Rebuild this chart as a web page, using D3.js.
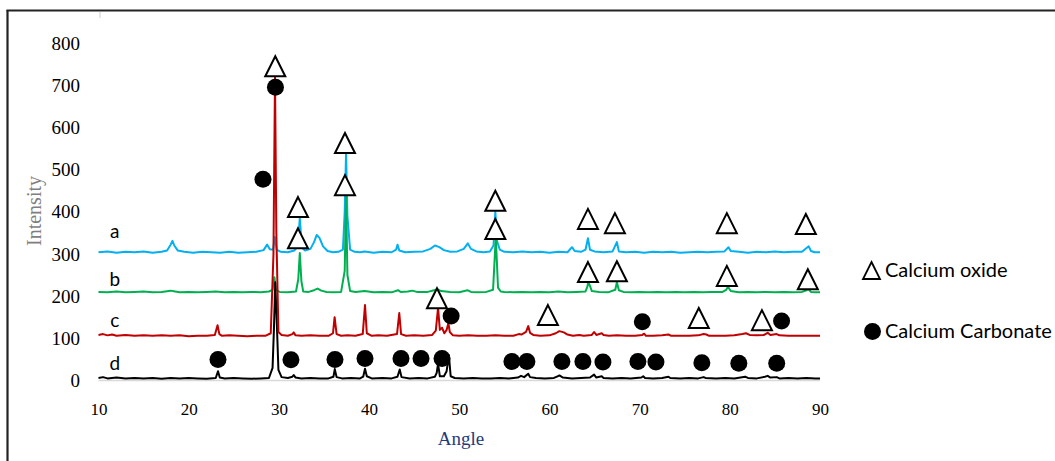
<!DOCTYPE html>
<meta charset="utf-8">
<html>
<head>
<style>
	body { margin: 0; background: white; }
	svg { display: block; }
	.tick text { font-family: "Liberation Serif", "Times New Roman", serif; fill: #000; }
	.trace { fill: none; stroke-width: 2px; stroke-linejoin: round; }
	.lbl { font-family: Lato, "Open Sans", sans-serif; font-size: 19px; fill: #000; }
	.legend { font-family: Lato, "Open Sans", sans-serif; font-size: 20px; fill: #000; }
</style>
</head>
<body>
<script src="https://d3js.org/d3.v7.min.js"></script>
<script>
	// angle (2 theta), intensity (already offset as plotted)
	var traceA = [[10,304],[11,306],[12,303],[13,305],[14,304],[15,306],[16,303],[17,305],[17.6,308],[18,322],[18.2,331],[18.4,320],[18.8,308],[19.5,305],[20.5,303],[21.5,305],[22.5,304],[23.5,303],[24.5,305],[25.5,303],[26.5,304],[27.5,305],[28.3,309],[28.7,322],[29,311],[29.35,310],[29.55,340],[29.75,310],[30.2,305],[31,304],[31.7,308],[32.1,318],[32.32,385],[32.55,315],[32.9,308],[33.5,312],[33.9,328],[34.2,345],[34.5,338],[34.9,318],[35.4,307],[36,304],[36.6,305],[37.1,310],[37.3,400],[37.45,540],[37.6,390],[37.9,310],[38.4,305],[39,304],[39.5,306],[40.5,303],[41.5,305],[42.5,304],[43.0,310],[43.15,322],[43.35,308],[44,304],[45,305],[46,306],[46.8,312],[47.3,320],[47.8,316],[48.3,309],[49,305],[49.8,306],[50.5,312],[50.95,325],[51.3,312],[51.9,306],[52.7,304],[53.4,306],[53.8,320],[54.0,400],[54.2,330],[54.5,310],[55,305],[56,304],[57,306],[58,304],[59,305],[60,303],[61,305],[62,304],[62.5,316],[62.8,307],[63.5,305],[64,310],[64.27,337],[64.5,310],[65,306],[66,304],[67,306],[67.48,328],[67.7,306],[68.5,304],[69.5,305],[70.5,303],[71.5,305],[72.5,304],[73.5,305],[74.5,303],[75.5,304],[76.5,305],[77.5,304],[78.5,305],[79.4,306],[79.85,316],[80.1,307],[81,305],[82,303],[83,305],[84,304],[85,306],[86,304],[87,305],[88,305],[88.75,318],[89,307],[89.4,304],[90,304]];

	var traceB = [[10,210],[11,209],[12,211],[13,209],[14,210],[15,211],[16,209],[17,210],[18,213],[18.5,211],[19,209],[20,210],[21,209],[22,210],[23,211],[24,209],[25,210],[26,209],[27,210],[28,209],[28.9,211],[29.3,215],[29.5,245],[29.7,214],[30.1,210],[31,209],[31.9,211],[32.15,240],[32.32,302],[32.5,235],[32.7,211],[33.3,210],[33.9,214],[34.3,218],[34.7,213],[35.3,210],[36,209],[36.9,210],[37.3,260],[37.45,435],[37.6,250],[37.9,212],[38.5,210],[39.5,212],[40.5,209],[41.5,210],[42.5,209],[43.2,214],[43.5,210],[44.3,211],[44.8,213],[45.3,210],[46.5,210],[47.2,214],[47.6,216],[48,212],[49,210],[50,209],[50.9,214],[51.3,210],[52,209],[53,210],[53.75,215],[54.05,340],[54.3,220],[54.6,211],[55,210],[56,209],[57,210],[58,209],[59,210],[60,209],[61,211],[62,209],[63,210],[64,211],[64.2,222],[64.3,233],[64.5,224],[64.7,212],[65.5,210],[66.5,209],[67.3,215],[67.48,233],[67.7,214],[68.2,210],[69,209],[70,210],[71,209],[72,210],[73,209],[74,210],[75,209],[76,210],[77,209],[78,210],[79.2,210],[79.6,215],[79.8,222],[80.1,212],[81,209],[82,210],[83,209],[84,210],[85,209],[86,210],[87,209],[88,210],[88.5,214],[88.7,217],[89,210],[89.5,209],[90,209]];

	var traceC = [[10,108],[10.5,110],[11,107],[11.5,109],[12,106],[13,108],[14,106],[15,107],[16,106],[17,107],[18,106],[19,107],[20,105],[21,106],[22,106],[22.9,108],[23.2,131],[23.4,110],[23.7,106],[24.5,107],[25.5,106],[26.5,105],[27.5,106],[28.5,106],[29.1,112],[29.4,300],[29.57,720],[29.72,350],[29.95,115],[30.3,108],[31,106],[31.5,110],[31.65,114],[31.85,107],[32.5,106],[33.5,107],[34.5,106],[35.5,106],[36.0,112],[36.18,150],[36.4,110],[36.9,106],[37.6,107],[38.5,106],[39.3,110],[39.55,179],[39.75,112],[40.3,106],[41,107],[42,106],[43.1,110],[43.35,160],[43.55,110],[44.1,106],[45,107],[46,106],[47,108],[47.4,118],[47.65,172],[47.85,120],[48.1,125],[48.35,112],[48.6,120],[48.8,136],[48.95,115],[49.3,107],[50,106],[51,107],[52,106],[53,106],[54,107],[55,106],[56,106],[56.6,110],[56.9,109],[57.4,115],[57.65,129],[57.85,113],[58.2,108],[59,106],[60,107],[60.7,112],[61.1,117],[61.6,114],[62,109],[62.6,106],[63.3,108],[63.8,106],[64.7,108],[64.95,115],[65.2,108],[65.8,112],[66,108],[66.6,106],[67.5,107],[68.5,106],[69.5,106],[70.3,108],[70.5,111],[70.7,106],[71.5,106],[72.5,107],[73.2,109],[73.5,106],[74.5,106],[75.5,106],[76.5,107],[77.1,110],[77.4,109],[77.7,106],[78.5,106],[79.5,106],[80.5,107],[81.4,110],[81.8,112],[82.2,108],[83,107],[83.8,108],[84.2,113],[84.5,108],[85.2,110],[85.5,107],[86.5,106],[87.5,106],[88.5,106],[89.2,106],[90,106]];

	var traceD = [[10,6],[10.5,8],[11,5],[12,7],[13,5],[14,6],[15,5],[16,6],[17,4],[18,6],[19,5],[20,6],[21,5],[22,4],[23,6],[23.25,22],[23.45,7],[24,5],[25,6],[26,5],[27,4],[28,5],[28.9,6],[29.3,30],[29.45,120],[29.6,233],[29.75,150],[29.95,25],[30.3,8],[31,6],[31.5,9],[31.65,13],[31.85,7],[32.5,5],[33.5,6],[34.5,5],[35.5,5],[36.05,9],[36.2,27],[36.4,8],[37,5],[38,6],[39,5],[39.35,9],[39.55,28],[39.75,10],[40.3,5],[41.5,6],[42.5,5],[43.15,9],[43.4,26],[43.6,8],[44.5,5],[45.5,6],[46.5,5],[47.3,9],[47.5,18],[47.65,40],[47.85,10],[48.3,10],[48.6,22],[48.85,60],[49.05,10],[49.5,6],[50.5,5],[51.5,6],[52.5,5],[53.5,5],[54.5,6],[55.5,5],[56.5,7],[56.85,11],[57.2,8],[57.65,16],[57.85,8],[58.5,6],[59.5,5],[60.5,6],[60.9,10],[61.1,12],[61.5,7],[62.5,5],[63.5,6],[64.5,7],[64.95,14],[65.2,7],[65.8,10],[66,6],[67,5],[68,6],[69,5],[70.2,7],[70.4,10],[70.6,6],[71.5,5],[72.5,6],[73.2,9],[73.4,6],[74.5,5],[75.5,6],[76.5,5],[77.1,8],[77.3,6],[78.5,5],[79.5,6],[80.5,5],[81.7,9],[82,6],[83,5],[83.9,9],[84.2,11],[84.5,7],[85.2,8],[85.5,5],[86.5,6],[87.5,5],[88.5,6],[89.5,5],[90,5]];

	// markers: Calcium oxide (triangles) and Calcium Carbonate (circles)
	var caoMarks = [[29.6,745],[32.12,411],[32.12,337],[37.33,563],[37.33,463],[54.0,426],[54.0,359],[64.27,383],[67.26,373],[64.27,257],[67.48,259],[47.53,195],[59.83,155],[76.56,148],[79.67,373],[88.43,371],[79.67,248],[88.65,240],[83.56,143]];
	var caco3Marks = [[29.62,695],[28.24,477],[49.1,153],[70.3,139],[85.74,141],
		[23.25,50],[31.34,49],[36.22,50],[39.55,52],[43.54,52],[45.76,52],[48.09,52],[55.84,45],[57.5,45],[61.38,45],[63.71,45],[65.93,44],[69.81,45],[71.81,44],[76.9,42],[81.0,41],[85.2,41]];

	var seriesNames = ["a", "b", "c", "d"];
	var seriesColors = ["#00b0f0", "#00b050", "#c00000", "#000000"];
	var labelPos = [[11.8,337],[11.8,223],[11.8,128],[11.8,25]];

	var xTicks = [10,20,30,40,50,60,70,80,90];
	var yTicks = [0,100,200,300,400,500,600,700,800];
	var legendNames = ["Calcium oxide", "Calcium Carbonate"];

	var width = 1055, height = 461;

	var x = d3.scaleLinear().domain([10, 90]).range([98.5, 820]);
	var y = d3.scaleLinear().domain([0, 800]).range([380.5, 43]);

	var svg = d3.select("body").append("svg")
		.attr("width", width)
		.attr("height", height);

	// outer frame (only top and left visible)
	svg.append("line").attr("x1", 7.5).attr("x2", 7.5).attr("y1", 10).attr("y2", height)
		.attr("stroke", "#222").attr("stroke-width", 2.2);
	svg.append("line").attr("x1", 6.5).attr("x2", width).attr("y1", 10.5).attr("y2", 10.5)
		.attr("stroke", "#222").attr("stroke-width", 2.2);
	svg.append("line").attr("x1", 100).attr("x2", 100).attr("y1", 12).attr("y2", 18)
		.attr("stroke", "#ccc").attr("stroke-width", 1);

	// faint category axis
	svg.append("line")
		.attr("x1", x(10)).attr("x2", x(90))
		.attr("y1", y(0)).attr("y2", y(0))
		.attr("stroke", "#d9d9d9").attr("stroke-width", 1.5);

	var yAxis = svg.append("g")
		.attr("transform", "translate(80,0)")
		.call(d3.axisLeft(y).tickValues(yTicks).tickSize(0).tickPadding(0));
	yAxis.select(".domain").remove();
	yAxis.selectAll("text").style("font-size", "19px");

	var xAxis = svg.append("g")
		.attr("transform", "translate(0,403)")
		.call(d3.axisBottom(x).tickValues(xTicks).tickSize(0).tickPadding(0));
	xAxis.select(".domain").remove();
	xAxis.selectAll("text").style("font-size", "17px");

	svg.append("text")
		.attr("transform", "translate(41,211) rotate(-90)")
		.attr("text-anchor", "middle")
		.style("font-family", "Liberation Serif, serif")
		.style("font-size", "20px")
		.style("fill", "#7f7f7f")
		.text("Intensity");

	svg.append("text")
		.attr("x", 461).attr("y", 445)
		.attr("text-anchor", "middle")
		.style("font-family", "Liberation Serif, serif")
		.style("font-size", "19px")
		.style("fill", "#1f3b7a")
		.text("Angle");

	var line = d3.line()
		.x(function(d){ return x(d[0]); })
		.y(function(d){ return y(d[1]); });

	var traces = [traceA, traceB, traceC, traceD];
	var drawOrder = [0, 1, 3, 2];
	drawOrder.forEach(function(i){
		svg.append("path")
			.datum(traces[i])
			.attr("class", "trace")
			.attr("stroke", seriesColors[i])
			.attr("d", line);
	});

	svg.selectAll("text.lbl")
		.data(seriesNames)
		.enter().append("text")
		.attr("class", "lbl")
		.attr("x", function(d, i){ return x(labelPos[i][0]); })
		.attr("y", function(d, i){ return y(labelPos[i][1]); })
		.attr("text-anchor", "middle")
		.text(function(d){ return d; });

	var tri = "M0,-10L10,10L-10,10Z";

	svg.selectAll("path.cao")
		.data(caoMarks)
		.enter().append("path")
		.attr("class", "cao")
		.attr("d", tri)
		.attr("transform", function(d){ return "translate(" + x(d[0]) + "," + y(d[1]) + ")"; })
		.attr("fill", "white")
		.attr("stroke", "black")
		.attr("stroke-width", 2);

	svg.selectAll("circle.caco3")
		.data(caco3Marks)
		.enter().append("circle")
		.attr("class", "caco3")
		.attr("cx", function(d){ return x(d[0]); })
		.attr("cy", function(d){ return y(d[1]); })
		.attr("r", 8.5)
		.attr("fill", "black");

	// legend
	svg.append("path")
		.attr("d", "M0,-8.5L8.5,8.5L-8.5,8.5Z")
		.attr("transform", "translate(871.5,270.5)")
		.attr("fill", "white").attr("stroke", "black").attr("stroke-width", 1.8);
	svg.append("circle").attr("cx", 872.5).attr("cy", 331.5).attr("r", 8.5).attr("fill", "black");
	svg.append("text").attr("class", "legend").attr("x", 885).attr("y", 277).text(legendNames[0]);
	svg.append("text").attr("class", "legend").attr("x", 885).attr("y", 338).text(legendNames[1]);
</script>
</body>
</html>
